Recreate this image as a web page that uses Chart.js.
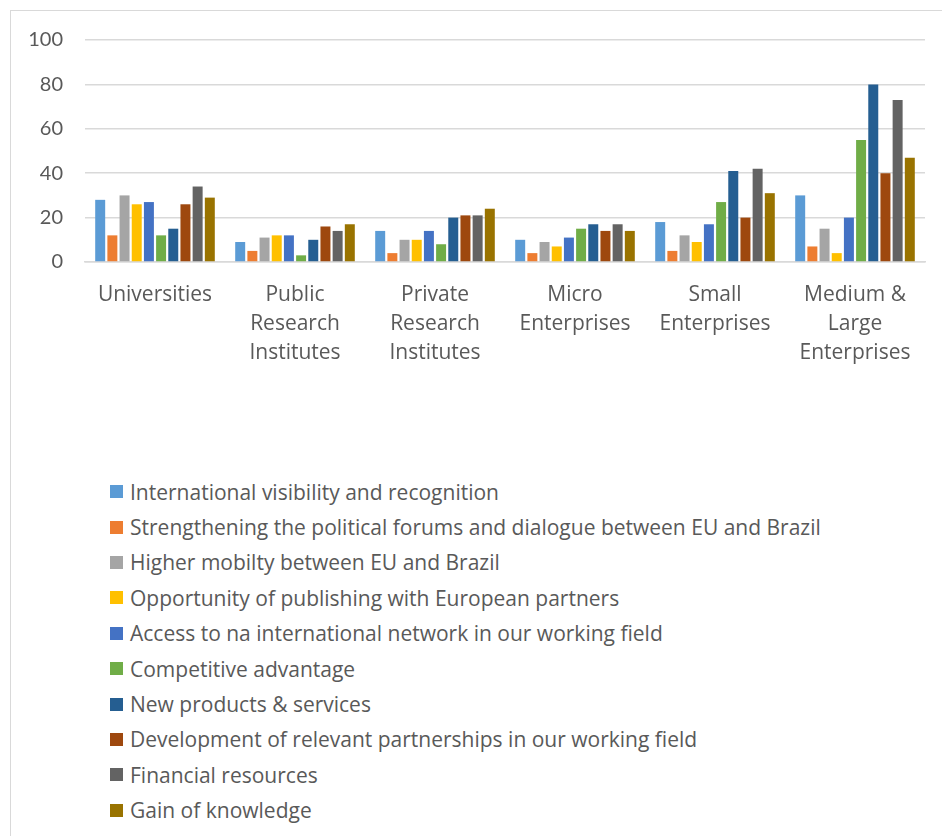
<!DOCTYPE html>
<html>
<head>
<meta charset="utf-8">
<script src="https://cdn.jsdelivr.net/npm/chart.js@4.4.0/dist/chart.umd.min.js"></script>
<style>
  html, body { margin: 0; padding: 0; background: #fff; }
  body { width: 942px; height: 836px; position: relative; overflow: hidden; font-family: 'Open Sans', Lato, sans-serif; }
  #frame { position: absolute; left: 10px; top: 10px; width: 940px; height: 840px; border: 1px solid #d9d9d9; box-sizing: border-box; }
  #wrap { position: absolute; left: 0; top: 0; width: 942px; height: 380px; }
  #legend { position: absolute; left: 110px; top: 474px; margin: 0; padding: 0; list-style: none; }
  #legend li { height: 35.4px; display: flex; align-items: center; font-size: 21px; color: #595959; white-space: nowrap; }
  #legend span.box { display: inline-block; width: 13px; height: 13px; margin-right: 7px; }
</style>
</head>
<body>
<div id="frame"></div>
<div id="wrap"><canvas id="c"></canvas></div>
<ul id="legend"></ul>
<script>
const categories = [
  ['Universities'],
  ['Public', 'Research', 'Institutes'],
  ['Private', 'Research', 'Institutes'],
  ['Micro', 'Enterprises'],
  ['Small', 'Enterprises'],
  ['Medium &', 'Large', 'Enterprises']
];

const seriesNames = [
  'International visibility and recognition',
  'Strengthening the political forums and dialogue between EU and Brazil',
  'Higher mobilty between EU and Brazil',
  'Opportunity of publishing with European partners',
  'Access to na international network in our working field',
  'Competitive advantage',
  'New products & services',
  'Development of relevant partnerships in our working field',
  'Financial resources',
  'Gain of knowledge'
];

const visibility = [28, 9, 14, 10, 18, 30];
const politicalForums = [12, 5, 4, 4, 5, 7];
const mobility = [30, 11, 10, 9, 12, 15];
const publishing = [26, 12, 10, 7, 9, 4];
const network = [27, 12, 14, 11, 17, 20];
const competitive = [12, 3, 8, 15, 27, 55];
const newProducts = [15, 10, 20, 17, 41, 80];
const partnerships = [26, 16, 21, 14, 20, 40];
const financial = [34, 14, 21, 17, 42, 73];
const knowledge = [29, 17, 24, 14, 31, 47];

const yTicks = [0, 20, 40, 60, 80, 100];

const colors = ['#5B9BD5', '#ED7D31', '#A5A5A5', '#FFC000', '#4472C4',
                '#70AD47', '#255E91', '#9E480E', '#636363', '#997300'];

const values = [visibility, politicalForums, mobility, publishing, network,
                competitive, newProducts, partnerships, financial, knowledge];

const datasets = values.map((v, i) => ({
  label: seriesNames[i],
  data: v,
  backgroundColor: colors[i],
  borderColor: '#ffffff',
  borderWidth: 0,
  barPercentage: 0.82,
  categoryPercentage: 0.87
}));

const txt = '#595959';

const chart = new Chart(document.getElementById('c'), {
  type: 'bar',
  data: { labels: categories, datasets: datasets },
  options: {
    responsive: true,
    maintainAspectRatio: false,
    animation: false,
    layout: { padding: { top: 40, right: 17, left: 0, bottom: 0 } },
    plugins: {
      legend: { display: false },
      tooltip: { enabled: false }
    },
    scales: {
      x: {
        grid: { display: false, drawTicks: false },
        border: { color: '#d9d9d9', width: 1.5 },
        ticks: { color: txt, font: { family: 'Open Sans', size: 21, lineHeight: 1.4 }, padding: 18, maxRotation: 0, autoSkip: false },
        afterFit: s => { s.height = 118; }
      },
      y: {
        min: 0,
        max: 100,
        afterBuildTicks: s => { s.ticks = yTicks.map(v => ({ value: v })); },
        grid: { color: '#d9d9d9', lineWidth: 1.5, drawTicks: false },
        border: { display: false },
        ticks: { color: txt, font: { family: 'Lato', size: 20 }, padding: 22 },
        afterFit: s => { s.width = 85; }
      }
    }
  }
});

const legend = document.getElementById('legend');
chart.data.datasets.forEach(ds => {
  const li = document.createElement('li');
  const box = document.createElement('span');
  box.className = 'box';
  box.style.background = ds.backgroundColor;
  li.appendChild(box);
  li.appendChild(document.createTextNode(ds.label));
  legend.appendChild(li);
});
</script>
</body>
</html>
